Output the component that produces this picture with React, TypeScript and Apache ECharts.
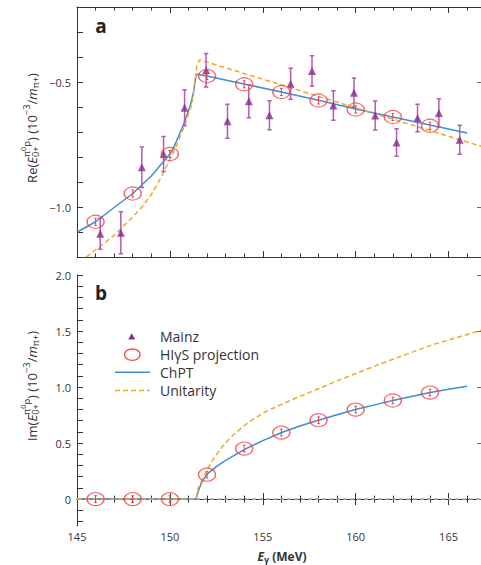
import React, { useEffect, useRef } from 'react';
import * as echarts from 'echarts';

const FONT = '"Open Sans", "Noto Sans", sans-serif';
const BLUE = '#3a8fd6';
const ORANGE = '#f2a62a';
const RED = '#f04040';
const PURPLE = '#8b2c8b';
const PURPLE_BAR = '#b25cb2';
const GRAY = '#b0b0b0';
const INK = '#333333';

// ---- Mainz data (Re part) ----
const mainzE = [146.25, 147.36, 148.49, 149.66, 150.79, 151.95, 153.1, 154.25, 155.36, 156.5, 157.65, 158.8, 159.91, 161.05, 162.2, 163.33, 164.48, 165.6];
const mainzRe = [-1.107, -1.103, -0.841, -0.788, -0.603, -0.453, -0.657, -0.577, -0.633, -0.507, -0.456, -0.594, -0.543, -0.634, -0.742, -0.644, -0.624, -0.731];
const mainzErr = [0.062, 0.084, 0.081, 0.07, 0.072, 0.067, 0.068, 0.066, 0.058, 0.062, 0.061, 0.059, 0.059, 0.058, 0.055, 0.055, 0.057, 0.058];

// ---- HIgS projection ----
const higsE = [146, 148, 150, 152, 154, 156, 158, 160, 162, 164];
const higsRe = [-1.059, -0.946, -0.788, -0.476, -0.509, -0.54, -0.574, -0.61, -0.64, -0.675];
const higsReErr = [0.014, 0.014, 0.014, 0.014, 0.014, 0.014, 0.014, 0.014, 0.014, 0.014];
const higsIm = [0, 0, 0, 0.218, 0.451, 0.594, 0.704, 0.799, 0.88, 0.951];
const higsImErr = [0.03, 0.03, 0.03, 0.03, 0.03, 0.03, 0.03, 0.03, 0.03, 0.03];

// ---- ChPT curves ----
const chptReE = [145, 146, 147, 148, 149, 150, 150.19, 150.73, 151.09, 151.27, 151.41, 152, 153.24, 154, 156, 158, 160, 162, 164, 166];
const chptRe = [-1.101, -1.059, -1.002, -0.946, -0.876, -0.788, -0.765, -0.671, -0.597, -0.543, -0.469, -0.476, -0.496, -0.508, -0.54, -0.573, -0.608, -0.64, -0.672, -0.704];
const chptImE = [145, 151.41, 151.54, 151.72, 151.99, 152.5, 153, 154.05, 155, 156.02, 157, 157.99, 159, 160, 161.3, 162, 163, 164, 165, 166];
const chptIm = [0, 0, 0.078, 0.152, 0.221, 0.29, 0.346, 0.446, 0.522, 0.594, 0.652, 0.704, 0.753, 0.799, 0.852, 0.88, 0.916, 0.951, 0.981, 1.008];

// ---- Unitarity curves ----
const unitReE = [145.5, 146, 147, 148, 148.5, 149, 149.5, 150, 150.28, 150.82, 151.18, 151.36, 151.45, 151.59, 166.79];
const unitRe = [-1.2, -1.171, -1.114, -1.04, -1.0, -0.95, -0.885, -0.81, -0.768, -0.668, -0.588, -0.497, -0.433, -0.411, -0.758];
const unitImE = [145, 151.41, 151.5, 151.63, 151.99, 152.34, 152.88, 153.42, 154.14, 155.03, 155.93, 156.83, 158, 159, 160, 161.3, 162, 164, 166.79];
const unitIm = [0, 0, 0.085, 0.138, 0.257, 0.36, 0.48, 0.575, 0.674, 0.77, 0.84, 0.905, 0.985, 1.055, 1.12, 1.205, 1.248, 1.37, 1.508];

const zeroLineE = [145, 166.8];
const zeroLineV = [0, 0];

// ---- axes ----
const xMin = 145;
const xMax = 166.8;
const reMin = -1.2;
const reMax = -0.2;
const reLabels = [-1.0, -0.5];
const imMin = -0.24;
const imMax = 2.0;
const imTicks = [-0.2, -0.1, 0, 0.1, 0.2, 0.3, 0.4, 0.5, 0.6, 0.7, 0.8, 0.9, 1.0, 1.1, 1.2, 1.3, 1.4, 1.5, 1.6, 1.7, 1.8, 1.9, 2.0];
const imLabels = [0, 0.5, 1.0, 1.5, 2.0];

const legendNames = ['Mainz', 'HI\u03b3S projection', 'ChPT', 'Unitarity'];

type Run = { t: string; s?: number; dy?: number; it?: boolean; b?: boolean };
type Seg = Run | { stack: [Run[], Run[]] };

function layoutText(segs: Seg[], size: number, color: string, bold = false) {
  const canvas = document.createElement('canvas');
  const ctx = canvas.getContext('2d') as CanvasRenderingContext2D;
  const fontOf = (r: Run) => `${r.it ? 'italic ' : ''}${r.b || bold ? 'bold ' : ''}${size * (r.s ?? 1)}px ${FONT}`;
  const widthOf = (r: Run) => {
    ctx.font = fontOf(r);
    return ctx.measureText(r.t).width;
  };
  const items: any[] = [];
  const place = (runs: Run[], x0: number) => {
    let cx = x0;
    for (const r of runs) {
      const fs = size * (r.s ?? 1);
      items.push({
        type: 'text',
        x: cx,
        y: size * (r.dy ?? 0),
        silent: true,
        style: {
          text: r.t,
          fontSize: fs,
          fontFamily: FONT,
          fontStyle: r.it ? 'italic' : 'normal',
          fontWeight: r.b || bold ? 'bold' : 'normal',
          fill: color,
          align: 'left',
          verticalAlign: 'middle',
          textAlign: 'left',
          textVerticalAlign: 'middle',
        },
      });
      cx += widthOf(r);
    }
    return cx;
  };
  let x = 0;
  for (const sg of segs) {
    if ('stack' in sg) {
      const a = place(sg.stack[0], x);
      const b = place(sg.stack[1], x);
      x = Math.max(a, b);
    } else {
      x = place([sg], x);
    }
  }
  items.forEach((it) => (it.x -= x / 2));
  return items;
}

function yTitle(prefix: string): Seg[] {
  return [
    { t: prefix + '(' },
    { t: 'E', it: true },
    {
      stack: [
        [
          { t: '\u03c0', s: 0.72, dy: -0.42 },
          { t: '0', s: 0.56, dy: -0.62 },
          { t: 'p', s: 0.72, dy: -0.42 },
        ],
        [{ t: '0+', s: 0.72, dy: 0.32 }],
      ],
    },
    { t: ')' },
    { t: ' (10' },
    { t: '\u22123', s: 0.72, dy: -0.42 },
    { t: '/' },
    { t: 'm', it: true },
    { t: '\u03c0+', s: 0.72, dy: 0.32 },
    { t: ')' },
  ];
}

const errRender = (color: string, cap: number, width: number) => (params: any, api: any) => {
  const x = api.value(0);
  const lo = api.coord([x, api.value(1)]);
  const hi = api.coord([x, api.value(2)]);
  const st = { stroke: color, lineWidth: width };
  return {
    type: 'group',
    children: [
      { type: 'line', shape: { x1: lo[0], y1: lo[1], x2: hi[0], y2: hi[1] }, style: st },
      { type: 'line', shape: { x1: lo[0] - cap, y1: lo[1], x2: lo[0] + cap, y2: lo[1] }, style: st },
      { type: 'line', shape: { x1: hi[0] - cap, y1: hi[1], x2: hi[0] + cap, y2: hi[1] }, style: st },
    ],
  };
};

const fmtIm = (v: number) => (Math.abs(v) < 1e-9 ? '0' : v.toFixed(1));
const fmtRe = (v: number) => '\u2212' + Math.abs(v).toFixed(1);

function xAxes(gridIndex: number, labels: boolean) {
  const base = {
    gridIndex,
    type: 'value',
    min: xMin,
    max: xMax,
    interval: 5,
    splitLine: { show: false },
    axisLine: { show: true, lineStyle: { color: INK, width: 1 } },
    axisTick: { show: true, inside: true, length: 6, lineStyle: { color: INK, width: 1 } },
    minorTick: { show: true, splitNumber: 5, length: 3.5, lineStyle: { color: INK, width: 1 } },
    minorSplitLine: { show: false },
  };
  return [
    {
      ...base,
      position: 'bottom',
      axisLabel: labels
        ? {
            show: true,
            color: INK,
            fontSize: 11,
            fontFamily: FONT,
            margin: 5,
            showMaxLabel: false,
            formatter: (v: number) => (Math.abs(v / 5 - Math.round(v / 5)) < 1e-6 ? String(Math.round(v)) : ''),
          }
        : { show: false },
    },
    { ...base, position: 'top', axisLabel: { show: false } },
  ];
}

export default function App() {
  const ref = useRef<HTMLDivElement>(null);

  useEffect(() => {
    document.body.style.margin = '0';
    if (!ref.current) return;
    const chart = echarts.init(ref.current, undefined, { renderer: 'svg' });

    const topTitle = layoutText(yTitle('Re'), 13, INK);
    const botTitle = layoutText(yTitle('Im'), 13, INK);
    const xTitle = layoutText(
      [
        { t: 'E', it: true },
        { t: '\u03b3', s: 0.75, dy: 0.3 },
        { t: ' (MeV)' },
      ],
      12,
      INK,
      true
    );

    const legendText = (t: string, y: number) => ({
      type: 'text',
      x: 160,
      y,
      silent: true,
      style: {
        text: t,
        fontSize: 14,
        fontFamily: FONT,
        fill: INK,
        align: 'left',
        verticalAlign: 'middle',
        textAlign: 'left',
        textVerticalAlign: 'middle',
      },
    });

    const panelLabel = (t: string, y: number) => ({
      type: 'text',
      x: 101,
      y,
      silent: true,
      style: {
        text: t,
        fontSize: 19,
        fontWeight: 'bold',
        fontFamily: FONT,
        fill: '#222',
        align: 'center',
        verticalAlign: 'middle',
        textAlign: 'center',
        textVerticalAlign: 'middle',
      },
    });

    const lineSeries = (name: string, xi: number, xs: number[], ys: number[], color: string, dashed: boolean, z: number) => ({
      name,
      type: 'line',
      xAxisIndex: xi,
      yAxisIndex: xi,
      data: xs.map((e, i) => [e, ys[i]]),
      symbol: 'none',
      lineStyle: { color, width: 1.5, type: dashed ? [5, 3] : 'solid' },
      silent: true,
      z,
    });

    const option: any = {
      animation: false,
      textStyle: { fontFamily: FONT },
      grid: [
        { left: 77, top: 7, width: 405, height: 250, outerBoundsMode: 'none', containLabel: false },
        { left: 77, top: 275, width: 405, height: 251, outerBoundsMode: 'none', containLabel: false },
      ],
      xAxis: [...xAxes(0, false), ...xAxes(1, true)],
      yAxis: [
        {
          gridIndex: 0,
          type: 'value',
          position: 'left',
          min: reMin,
          max: reMax,
          interval: 0.1,
          splitLine: { show: false },
          axisLine: { show: true, lineStyle: { color: INK } },
          axisTick: { show: true, inside: true, length: 6, lineStyle: { color: INK } },
          axisLabel: {
            show: true,
            color: INK,
            fontSize: 11,
            fontFamily: FONT,
            margin: 6,
            customValues: reLabels,
            formatter: fmtRe,
          },
        },
        {
          gridIndex: 0,
          type: 'value',
          position: 'right',
          min: reMin,
          max: reMax,
          splitLine: { show: false },
          axisLine: { show: true, lineStyle: { color: INK } },
          axisTick: { show: true, inside: true, length: 5, customValues: reLabels, lineStyle: { color: '#666' } },
          axisLabel: { show: false },
        },
        {
          gridIndex: 1,
          type: 'value',
          position: 'left',
          min: imMin,
          max: imMax,
          splitLine: { show: false },
          axisLine: { show: true, lineStyle: { color: INK } },
          axisTick: { show: true, inside: true, length: 6, customValues: imTicks, lineStyle: { color: INK } },
          axisLabel: {
            show: true,
            color: INK,
            fontSize: 11,
            fontFamily: FONT,
            margin: 6,
            customValues: imLabels,
            formatter: fmtIm,
          },
        },
        {
          gridIndex: 1,
          type: 'value',
          position: 'right',
          min: imMin,
          max: imMax,
          splitLine: { show: false },
          axisLine: { show: true, lineStyle: { color: INK } },
          axisTick: { show: true, inside: true, length: 5, customValues: imLabels, lineStyle: { color: '#666' } },
          axisLabel: { show: false },
        },
      ],
      series: [
        // ---- panel a ----
        lineSeries('ChPT', 0, chptReE, chptRe, BLUE, false, 3),
        lineSeries('Unitarity', 0, unitReE, unitRe, ORANGE, true, 4),
        {
          name: 'Mainz err',
          type: 'custom',
          xAxisIndex: 0,
          yAxisIndex: 0,
          data: mainzE.map((e, i) => [e, mainzRe[i] - mainzErr[i], mainzRe[i] + mainzErr[i]]),
          encode: { x: 0, y: [1, 2] },
          renderItem: errRender(PURPLE_BAR, 2.2, 1.5),
          silent: true,
          z: 5,
        },
        {
          name: 'Mainz',
          type: 'scatter',
          xAxisIndex: 0,
          yAxisIndex: 0,
          data: mainzE.map((e, i) => [e, mainzRe[i]]),
          symbol: 'triangle',
          symbolSize: [8, 8],
          itemStyle: { color: PURPLE },
          silent: true,
          z: 6,
        },
        {
          name: 'HIγS projection',
          type: 'scatter',
          xAxisIndex: 0,
          yAxisIndex: 0,
          data: higsE.map((e, i) => [e, higsRe[i]]),
          symbol: 'circle',
          symbolSize: [17, 13],
          itemStyle: { color: 'rgba(255,255,255,0)', borderColor: RED, borderWidth: 1.3 },
          silent: true,
          z: 7,
        },
        {
          name: 'HIγS err a',
          type: 'custom',
          xAxisIndex: 0,
          yAxisIndex: 0,
          data: higsE.map((e, i) => [e, higsRe[i] - higsReErr[i], higsRe[i] + higsReErr[i]]),
          encode: { x: 0, y: [1, 2] },
          renderItem: errRender(RED, 1.3, 1),
          silent: true,
          z: 8,
        },
        // ---- panel b ----
        {
          name: 'zero',
          type: 'line',
          xAxisIndex: 2,
          yAxisIndex: 2,
          data: zeroLineE.map((e, i) => [e, zeroLineV[i]]),
          symbol: 'none',
          lineStyle: { color: GRAY, width: 1.5, type: [4, 3] },
          silent: true,
          z: 2,
        },
        lineSeries('ChPT Im', 2, chptImE, chptIm, BLUE, false, 3),
        lineSeries('Unitarity Im', 2, unitImE, unitIm, ORANGE, true, 4),
        {
          name: 'HIγS Im',
          type: 'scatter',
          xAxisIndex: 2,
          yAxisIndex: 2,
          data: higsE.map((e, i) => [e, higsIm[i]]),
          symbol: 'circle',
          symbolSize: [17, 13],
          itemStyle: { color: 'rgba(255,255,255,0)', borderColor: RED, borderWidth: 1.3 },
          silent: true,
          z: 7,
        },
        {
          name: 'HIγS err b',
          type: 'custom',
          xAxisIndex: 2,
          yAxisIndex: 2,
          data: higsE.map((e, i) => [e, higsIm[i] - higsImErr[i], higsIm[i] + higsImErr[i]]),
          encode: { x: 0, y: [1, 2] },
          renderItem: errRender(RED, 1.3, 1),
          silent: true,
          z: 8,
        },
      ],
      graphic: [
        { type: 'group', x: 31.5, y: 128, rotation: Math.PI / 2, children: topTitle },
        { type: 'group', x: 31.5, y: 386, rotation: Math.PI / 2, children: botTitle },
        { type: 'group', x: 282, y: 556, children: xTitle },
        panelLabel('a', 26),
        panelLabel('b', 293),
        // legend
        {
          type: 'polygon',
          silent: true,
          shape: { points: [[131.7, 333.2], [128.2, 339.6], [135.2, 339.6]] },
          style: { fill: PURPLE },
        },
        {
          type: 'ellipse',
          silent: true,
          shape: { cx: 132.3, cy: 354.6, rx: 7.8, ry: 5.8 },
          style: { fill: 'none', stroke: RED, lineWidth: 1.3 },
        },
        {
          type: 'line',
          silent: true,
          shape: { x1: 115, y1: 372.3, x2: 150, y2: 372.3 },
          style: { stroke: BLUE, lineWidth: 1.5 },
        },
        {
          type: 'line',
          silent: true,
          shape: { x1: 115, y1: 390.5, x2: 150, y2: 390.5 },
          style: { stroke: ORANGE, lineWidth: 1.5, lineDash: [5, 3] },
        },
        legendText(legendNames[0], 336.5),
        legendText(legendNames[1], 354.5),
        legendText(legendNames[2], 372.3),
        legendText(legendNames[3], 390.5),
      ],
    };

    chart.setOption(option);
    return () => {
      chart.dispose();
    };
  }, []);

  return <div ref={ref} style={{ width: 481, height: 565 }} />;
}
